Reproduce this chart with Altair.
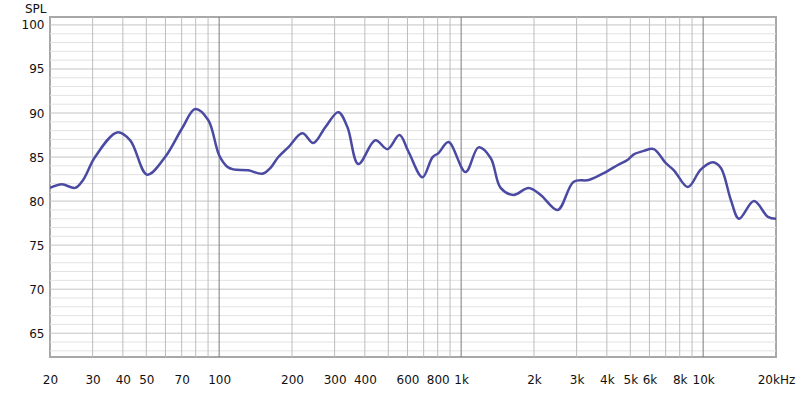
import altair as alt
import pandas as pd

# Frequency response (Hz, dB SPL)
freq = [20, 22.4, 25.4, 27.4, 30.7, 37.9, 42.9, 50.4, 59.8, 70.4, 79.6, 90.1,
        100, 108, 114.4, 132, 150.8, 162.7, 175.6, 193, 220.6, 245, 274.8, 311,
        338.8, 376, 442, 496, 556, 606, 692, 762, 806, 887, 1043, 1180, 1324,
        1456, 1647, 1900, 2132, 2506, 2918, 3368, 3960, 4438, 4884, 5170, 5686,
        6252, 7012, 7570, 8646, 9788, 10976, 11840, 13026, 14062, 16218, 18532, 20000]
spl = [81.5, 81.9, 81.5, 82.4, 85.0, 87.8, 86.9, 83.0, 85.0, 88.3, 90.45, 89.2,
       85.2, 83.9, 83.6, 83.5, 83.1, 83.75, 85.0, 86.1, 87.7, 86.6, 88.4, 90.1,
       88.4, 84.2, 86.9, 85.9, 87.5, 85.6, 82.7, 85.0, 85.45, 86.7, 83.3, 86.1, 84.9,
       81.5, 80.7, 81.5, 80.7, 79.0, 82.2, 82.4, 83.3, 84.1, 84.7, 85.3, 85.7,
       85.9, 84.3, 83.5, 81.6, 83.6, 84.4, 83.75, 80.1, 78.0, 80.0, 78.2, 78.0]

x_grid_minor = [30, 40, 50, 60, 70, 80, 90,
                200, 300, 400, 500, 600, 700, 800, 900,
                2000, 3000, 4000, 5000, 6000, 7000, 8000, 9000]
x_grid_major = [100, 1000, 10000]
y_grid_fine = [v for v in range(63, 101) if v % 5 != 0]
y_grid_major = [65, 70, 75, 80, 85, 90, 95, 100]

x_tick_values = [20, 30, 40, 50, 70, 100, 200, 300, 400, 600, 800,
                 1000, 2000, 3000, 4000, 5000, 6000, 8000, 10000, 20000]
x_tick_labels = ["20", "30", "40", "50", "70", "100", "200", "300", "400", "600", "800",
                 "1k", "2k", "3k", "4k", "5k", "6k", "8k", "10k", "20kHz"]
y_tick_values = [65, 70, 75, 80, 85, 90, 95, 100]

label_expr = "''"
for v, lab in reversed(list(zip(x_tick_values, x_tick_labels))):
    label_expr = f"datum.value == {v} ? '{lab}' : ({label_expr})"

FONT = "DejaVu Sans"
xscale = alt.Scale(type="log", domain=[20, 20000], nice=False)
yscale = alt.Scale(domain=[62.3, 100.9], nice=False, zero=False)

xaxis = alt.Axis(values=x_tick_values, labelExpr=label_expr, grid=False,
                 ticks=False, domain=False, labelOverlap=False,
                 labelFont=FONT, labelFontSize=12, labelColor="#111",
                 labelPadding=17, title=None, labelFlush=False)
yaxis = alt.Axis(values=y_tick_values, grid=False, ticks=False, domain=False,
                 labelFont=FONT, labelFontSize=12, labelColor="#111",
                 labelPadding=6, title="SPL", titleAngle=0, titleAlign="right",
                 titleBaseline="middle", titleX=-4, titleY=-9,
                 titleFont=FONT, titleFontSize=12, titleFontWeight="normal",
                 titleColor="#111")

df = pd.DataFrame({"f": freq, "spl": spl})

yfine = alt.Chart(pd.DataFrame({"spl": y_grid_fine})).mark_rule(
    color="#e2e2e2", strokeWidth=1).encode(y=alt.Y("spl:Q", scale=yscale, axis=yaxis))
ymaj = alt.Chart(pd.DataFrame({"spl": y_grid_major})).mark_rule(
    color="#c4c4c4", strokeWidth=1).encode(y=alt.Y("spl:Q", scale=yscale, axis=yaxis))
xmin = alt.Chart(pd.DataFrame({"f": x_grid_minor})).mark_rule(
    color="#bdbdbd", strokeWidth=1).encode(x=alt.X("f:Q", scale=xscale, axis=xaxis))
xmaj = alt.Chart(pd.DataFrame({"f": x_grid_major})).mark_rule(
    color="#7a7a82", strokeWidth=1).encode(x=alt.X("f:Q", scale=xscale, axis=xaxis))

line = alt.Chart(df).mark_line(
    color="#4a4aa2", strokeWidth=2.5, interpolate="catmull-rom", clip=True
).encode(
    x=alt.X("f:Q", scale=xscale, axis=xaxis),
    y=alt.Y("spl:Q", scale=yscale, axis=yaxis),
)

chart = alt.layer(yfine, ymaj, xmin, xmaj, line).properties(
    width=726, height=340,
    autosize=alt.AutoSizeParams(type="none"),
    padding={"left": 50, "top": 17, "right": 24, "bottom": 36},
    background="white",
).configure_view(stroke="#a8a8a8", strokeWidth=2)

chart.save("out.html", embed_options={"renderer": "svg", "actions": False})
